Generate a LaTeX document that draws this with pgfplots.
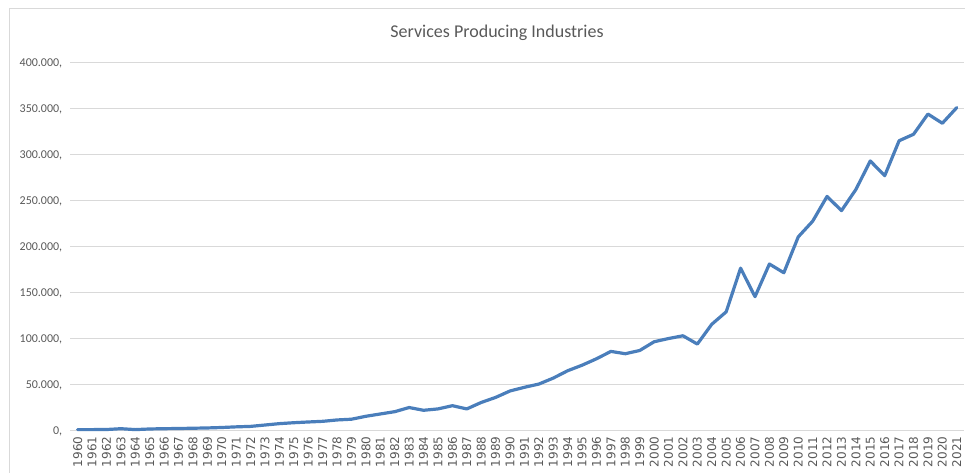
\documentclass[border=0pt]{standalone}
\usepackage{pgfplots}
\pgfplotsset{compat=1.18}
\usepackage{pgfplotstable}
\usepackage{fontspec}
\setmainfont{Carlito}
\newfontfamily\dejavu{DejaVu Sans}
\definecolor{gridc}{HTML}{D9D9D9}
\definecolor{textc}{HTML}{595959}
\definecolor{linec}{HTML}{4A7EBB}
\pgfplotstableread{
year val
1960 1500
1961 1500
1962 1600
1963 2500
1964 1500
1965 2200
1966 2500
1967 2700
1968 3000
1969 3300
1970 3800
1971 4500
1972 5000
1973 6500
1974 8000
1975 9000
1976 9800
1977 10500
1978 12000
1979 12800
1980 16000
1981 18500
1982 21000
1983 25500
1984 22500
1985 24000
1986 27500
1987 24000
1988 31000
1989 36500
1990 43500
1991 47500
1992 51000
1993 57500
1994 65500
1995 71500
1996 78500
1997 86500
1998 84000
1999 87500
2000 97000
2001 100500
2002 103500
2003 94500
2004 116000
2005 129500
2006 177000
2007 146000
2008 181500
2009 172000
2010 211000
2011 228000
2012 255000
2013 239500
2014 262500
2015 293500
2016 277500
2017 315500
2018 322500
2019 344500
2020 334500
2021 351500
}\datatable
\begin{document}
\begin{tikzpicture}
\useasboundingbox (0,0) rectangle (723.75pt,354.75pt);
\draw[gridc, line width=0.75pt] (6.75pt,-20pt) -- (6.75pt,348.4pt) -- (760pt,348.4pt);
\node[text=textc, font=\fontsize{13.5}{15}\selectfont] at (372.75pt,330pt) {Services Producing Industries};
\begin{axis}[
  scale only axis,
  width=670.1pt, height=276pt,
  at={(52.875pt,31.5pt)}, anchor=south west,
  xmin=1959.5, xmax=2021.5,
  ymin=0, ymax=400000,
  axis line style={draw=none},
  tick style={draw=none},
  major tick length=0pt,
  ymajorgrids,
  grid style={gridc, line width=0.75pt},
  xtick={1960,1961,1962,1963,1964,1965,1966,1967,1968,1969,1970,1971,1972,1973,1974,1975,1976,1977,1978,1979,1980,1981,1982,1983,1984,1985,1986,1987,1988,1989,1990,1991,1992,1993,1994,1995,1996,1997,1998,1999,2000,2001,2002,2003,2004,2005,2006,2007,2008,2009,2010,2011,2012,2013,2014,2015,2016,2017,2018,2019,2020,2021},
  xticklabels={1960,1961,1962,1963,1964,1965,1966,1967,1968,1969,1970,1971,1972,1973,1974,1975,1976,1977,1978,1979,1980,1981,1982,1983,1984,1985,1986,1987,1988,1989,1990,1991,1992,1993,1994,1995,1996,1997,1998,1999,2000,2001,2002,2003,2004,2005,2006,2007,2008,2009,2010,2011,2012,2013,2014,2015,2016,2017,2018,2019,2020,2021},
  xticklabel style={rotate=90, anchor=east, text=textc, font=\dejavu\fontsize{9}{10}\selectfont, inner sep=0pt, xshift=-4pt},
  xtick pos=bottom,
  ytick={0,50000,100000,150000,200000,250000,300000,350000,400000},
  yticklabels={{0,},{50.000,},{100.000,},{150.000,},{200.000,},{250.000,},{300.000,},{350.000,},{400.000,}},
  yticklabel style={text=textc, font=\fontsize{9}{10}\selectfont, anchor=east, inner sep=0pt, xshift=-6pt},
  scaled y ticks=false,
  clip=false,
]
\addplot[linec, line width=2.4pt, line join=round, line cap=round] table[x=year, y=val] {\datatable};
\end{axis}
\end{tikzpicture}
\end{document}
